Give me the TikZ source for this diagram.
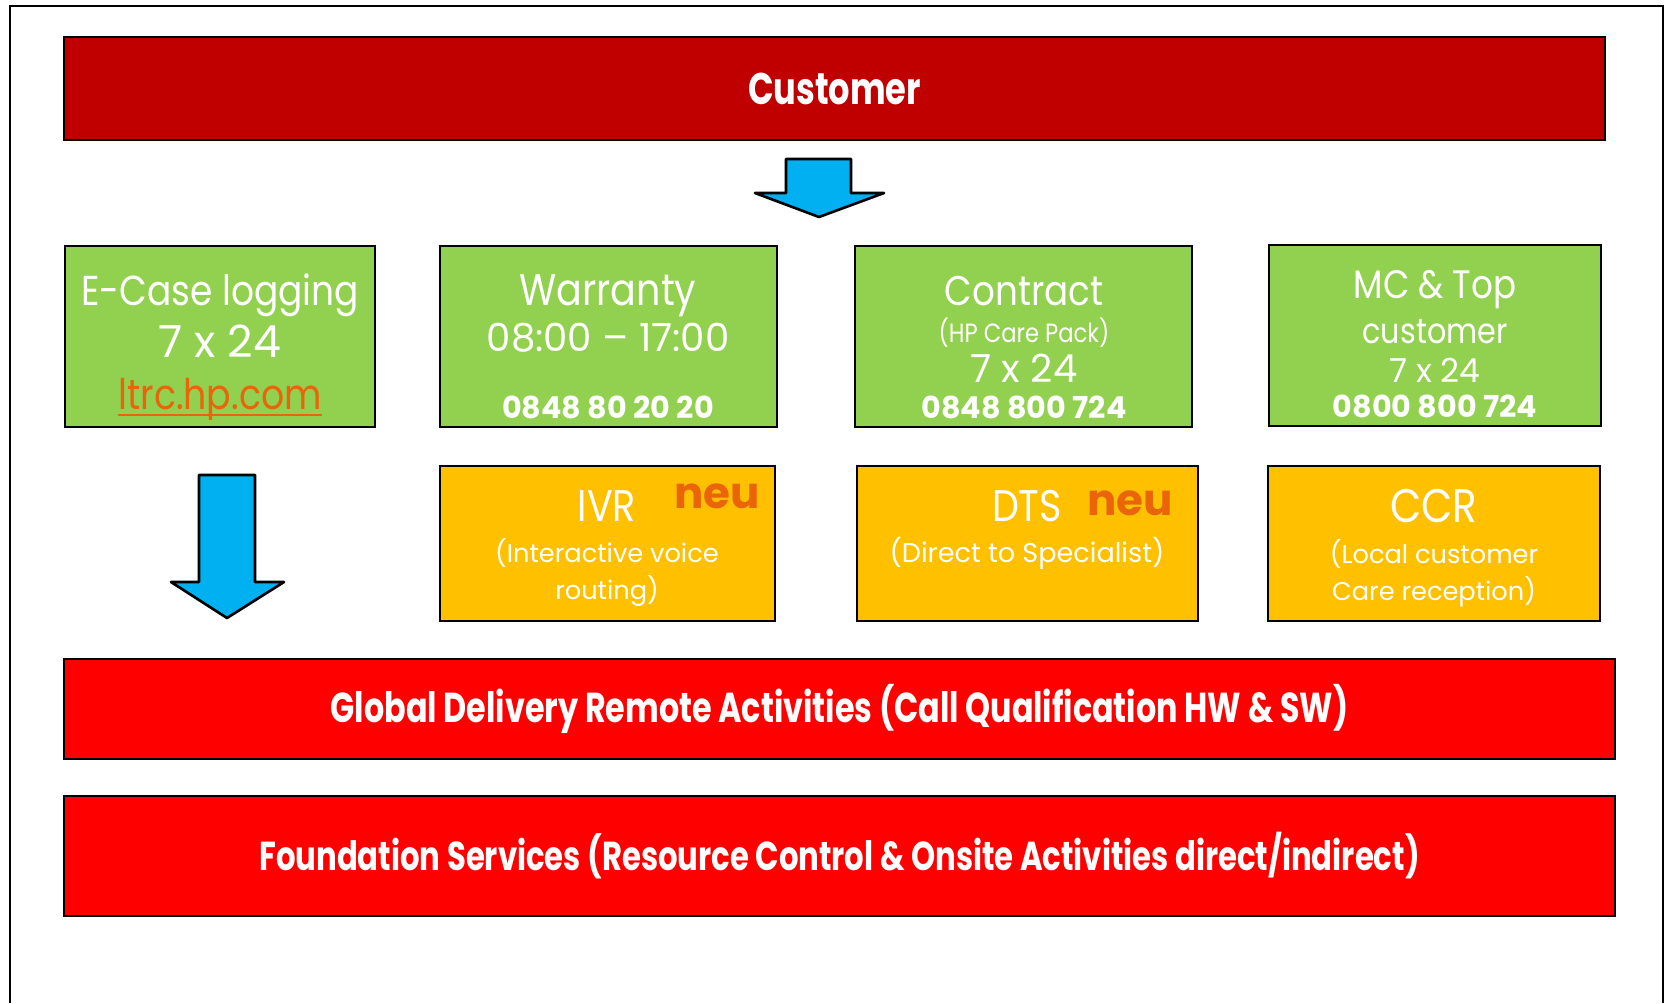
\documentclass[tikz,border=0pt]{standalone}
\usepackage{fontspec}
\setmainfont{Poppins}
\newfontfamily\narrowfont[FakeStretch=0.86]{Poppins}
\newfontfamily\condfont[FakeStretch=0.76]{Poppins}
\definecolor{custred}{RGB}{192,0,0}
\definecolor{boxgreen}{RGB}{146,208,80}
\definecolor{boxorange}{RGB}{255,192,0}
\definecolor{boxred}{RGB}{255,0,0}
\definecolor{arrowblue}{RGB}{0,176,240}
\definecolor{neuorange}{RGB}{234,100,10}
\tikzstyle{box}=[draw=black,line width=0.75pt,inner sep=0pt]
\tikzstyle{greenbox}=[box,fill=boxgreen,minimum height=18.1mm]
\tikzstyle{orangebox}=[box,fill=boxorange,minimum height=15.5mm]
\tikzstyle{redbar}=[box,fill=boxred,minimum width=155.1mm,text=white]
\tikzstyle{blockarrow}=[draw=black,line width=0.75pt,line join=round,fill=arrowblue]
\tikzstyle{txt}=[anchor=base,inner sep=0pt,text=white,font=\narrowfont\fontsize{12.6}{14}\selectfont]
\tikzstyle{small}=[txt,font=\fontsize{7.3}{9}\selectfont]
\tikzstyle{phone}=[txt,font=\bfseries\fontsize{8.6}{10}\selectfont]
\tikzstyle{neu}=[anchor=base,inner sep=0pt,text=neuorange,font=\bfseries\fontsize{12.4}{14}\selectfont]

\begin{document}
\begin{tikzpicture}[x=0.1mm,y=-0.1mm]
  \useasboundingbox (0,0) rectangle (1667,1003);
  % frame, open at the bottom
  \draw[line width=0.6pt] (10,1003) -- (10,6) -- (1663,6) -- (1663,1003);

  % customer bar
  \node[box,fill=custred,minimum width=154.1mm,minimum height=10.3mm,text=white,
    font=\condfont\bfseries\fontsize{12.6}{15}\selectfont] (cust) at (834.5,88.5) {Customer};
  \draw[blockarrow] (786,159) -- (851,159) -- (851,193) -- (884,193) -- (819,217)
    -- (755,193) -- (786,193) -- cycle;

  % green row
  \node[greenbox,minimum width=31mm] (ecase) at (220,336.5) {};
  \node[greenbox,minimum width=33.7mm] (warr) at (608.5,336.5) {};
  \node[greenbox,minimum width=33.7mm] (contr) at (1023.5,336.5) {};
  \node[greenbox,minimum width=33.2mm] (mc) at (1435,335.5) {};

  \node[txt,font=\narrowfont\fontsize{11.9}{14}\selectfont] (ecase1) at (220,305) {E-Case logging};
  \node[txt,font=\fontsize{12.6}{14}\selectfont] (ecase2) at (220,357) {7 x 24};
  \node[txt,text=neuorange,font=\narrowfont\fontsize{12}{14}\selectfont] (ecase3) at (220,409) {ltrc.hp.com};
  \draw[neuorange,line width=0.6pt] ([yshift=-0.6mm]ecase3.base west) -- ([yshift=-0.6mm]ecase3.base east);

  \node[txt] (warr1) at (608,305) {Warranty};
  \node[txt,font=\fontsize{11}{13}\selectfont] (warr2) at (608,351) {08:00 – 17:00};
  \node[phone] (warr3) at (608,418) {0848 80 20 20};

  \node[txt,font=\narrowfont\fontsize{11.8}{14}\selectfont] (contr1) at (1024,305) {Contract};
  \node[txt,font=\narrowfont\fontsize{7.5}{9}\selectfont] (contr2) at (1024,342) {(HP Care Pack)};
  \node[txt,font=\fontsize{11}{13}\selectfont] (contr3) at (1024,382) {7 x 24};
  \node[phone] (contr4) at (1024,418) {0848 800 724};

  \node[txt,font=\narrowfont\fontsize{11.3}{12}\selectfont] (mc1) at (1435,298) {MC \& Top};
  \node[txt,font=\narrowfont\fontsize{10}{12}\selectfont] (mc2) at (1435,343) {customer};
  \node[txt,font=\fontsize{9.4}{11}\selectfont] (mc3) at (1435,382) {7 x 24};
  \node[phone] (mc4) at (1435,417) {0800 800 724};

  % orange row
  \node[orangebox,minimum width=33.5mm] (ivr) at (607.5,543.5) {};
  \node[orangebox,minimum width=34.1mm] (dts) at (1027.5,543.5) {};
  \node[orangebox,minimum width=33.2mm] (ccr) at (1434,543.5) {};

  \node[txt] (ivr1) at (607,521) {IVR};
  \node[neu] (ivrneu) at (717,508) {neu};
  \node[small] (ivr2) at (607,562) {(Interactive voice};
  \node[small] (ivr3) at (607,599) {routing)};

  \node[txt] (dts1) at (1027,521) {DTS};
  \node[neu] (dtsneu) at (1130,515) {neu};
  \node[small,font=\fontsize{7.7}{9}\selectfont] (dts2) at (1027,562) {(Direct to Specialist)};

  \node[txt,font=\narrowfont\fontsize{13.4}{15}\selectfont] (ccr1) at (1434,522) {CCR};
  \node[small] (ccr2) at (1434,563) {(Local customer};
  \node[small] (ccr3) at (1434,600) {Care reception)};

  \draw[blockarrow] (199,475) -- (255,475) -- (255,582) -- (284,582) -- (227,618)
    -- (171,582) -- (199,582) -- cycle;

  % red bars
  \node[redbar,minimum height=10mm,font=\condfont\bfseries\fontsize{11.9}{13}\selectfont] (global) at (839.5,709)
    {Global Delivery Remote Activities (Call Qualification HW \& SW)};
  \node[redbar,minimum height=12mm,font=\condfont\bfseries\fontsize{11.5}{13}\selectfont] (found) at (839.5,856)
    {Foundation Services (Resource Control \& Onsite Activities direct/indirect)};
\end{tikzpicture}
\end{document}
